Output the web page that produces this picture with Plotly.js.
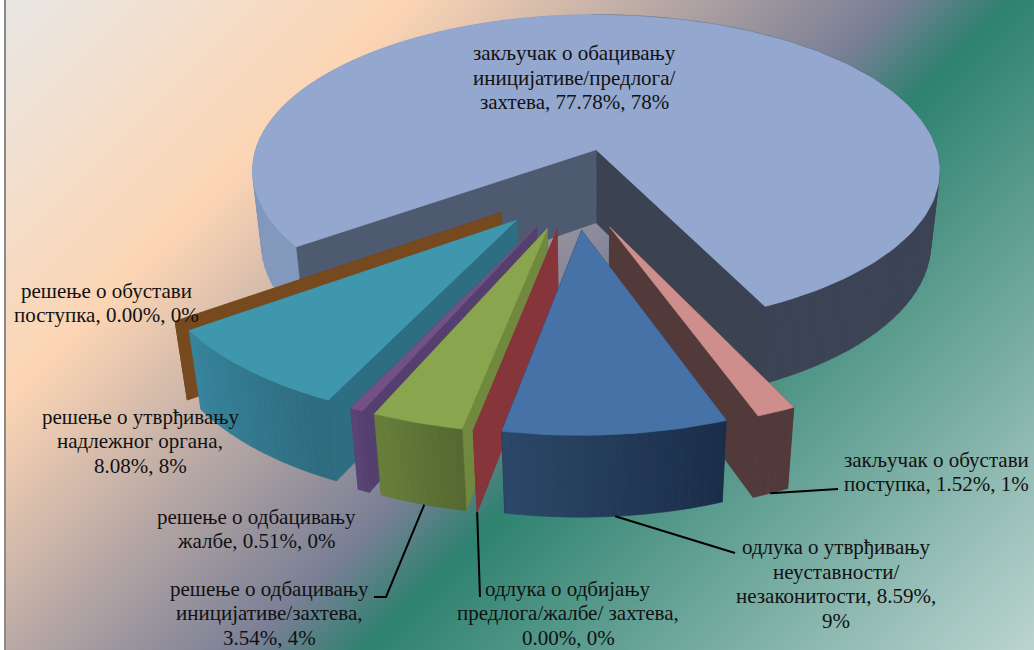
<!DOCTYPE html>
<html><head><meta charset="utf-8">
<script src="https://cdn.plot.ly/plotly-3.0.1.min.js"></script>
<style>
html,body{margin:0;padding:0;background:#fff;width:1034px;height:650px;overflow:hidden}
#bg{position:absolute;left:4px;top:0;width:1028px;height:650px;border-left:2px solid #8a8a8a;
background:linear-gradient(135deg,#e9e7e4 0%,#fcd5b4 24%,#7a7f96 53%,#2e8270 60%,#bcd4d0 100%)}
#chart{position:absolute;left:0;top:0;width:1034px;height:650px}
</style></head><body><div id="bg"></div><div id="chart"></div>
<script>
// Data, clockwise from the start angle
const sliceNames=["main","pink","blue","red","green","purple","teal","brown"];
const values=[77.78,1.52,8.59,0,3.54,0.51,8.08,0];
const labels=[
 "закључак о обацивању<br>иницијативе/предлога/<br>захтева, 77.78%, 78%",
 "закључак о обустави<br>поступка, 1.52%, 1%",
 "одлука о утврђивању<br>неуставности/<br>незаконитости, 8.59%,<br>9%",
 "одлука о одбијању<br>предлога/жалбе/ захтева,<br>0.00%, 0%",
 "решење о одбацивању<br>иницијативе/захтева,<br>3.54%, 4%",
 "решење о одбацивању<br>жалбе, 0.51%, 0%",
 "решење о утврђивању<br>надлежног органа,<br>8.08%, 8%",
 "решење о обустави<br>поступка, 0.00%, 0%"];
// Styles and layout
const topColors=["#94a7cf","#cd8e8c","#4672a8","#86363a","#89a64e","#735087","#3f97ae","#764a1e"];
const startWall=["#4d5a70","#533a3a","#2a4566","#86363a","#71893f","#553f6e","#2e6e82","#764a1e"];
const endWall=["#3b4252","#533a3a","#1b2e4a","#86363a","#566a30","#553f6e","#347f96","#764a1e"];
const rimFrom=["#3c4354","#533a3a","#1a2d49","#86363a","#546830","#553f6e","#2d6a7e","#764a1e"];
const rimTo=["#8299bd","#533a3a","#2c4869","#86363a","#687f3b","#5a4577","#37859d","#764a1e"];
const drawOrder=[0,1,7,6,5,4,3,2];
const labelX=[574,936,836,568,269,256,140,106];
const labelY=[77.5,472,584,613,613,529,441,303];
const labelSize=[21,21,21,21,21,21,21,21];
const lineHeight=24.5;
const leaders=[
 {slice:1,frac:.51,path:[[838,489]]},
 {slice:2,frac:.5,path:[[735,553]]},
 {slice:3,frac:.5,path:[[480,597]]},
 {slice:4,frac:.48,path:[[386,597],[374,597]]}];
const startAngle=234.2, explode=.25, centreU=-.058, centreV=.24;
const cx=595, cy=150, A=340.5, B=153.2, K=.1346, D=75, M=.026;

const total=values.reduce((a,b)=>a+b,0);
const rad=d=>d*Math.PI/180;
function project(u,v,z){const w=1-K*v+M*z;return [cx+A*u/w, cy+(B*v+D*z)/w];}
let acc=startAngle;
const slices=values.map(v=>{const sweep=360*v/total;const s={a0:acc,a1:acc+sweep};acc+=sweep;
  const m=rad(s.a0+sweep/2);s.ou=centreU+explode*Math.sin(m);s.ov=centreV-explode*Math.cos(m);return s;});
function edge(s,a,z){return project(s.ou+Math.sin(rad(a)),s.ov-Math.cos(rad(a)),z);}
const apex=(s,z)=>project(s.ou,s.ov,z);
function hex(c){return [1,3,5].map(i=>parseInt(c.substr(i,2),16));}
function mix(a,b,t){const x=hex(a),y=hex(b);return "rgb("+x.map((q,i)=>Math.round(q+(y[i]-q)*t)).join(",")+")";}
const traces=[];
function poly(pts,col){const p=pts.concat([pts[0]]);
  traces.push({type:"scatter",mode:"lines",x:p.map(q=>q[0]),y:p.map(q=>q[1]),fill:"toself",fillcolor:col,
    line:{color:col,width:.6},hoverinfo:"skip",showlegend:false});}
function wall(s,a,col){poly([apex(s,0),edge(s,a,0),edge(s,a,1),apex(s,1)],col);}
function rim(s,i){const n=Math.max(1,Math.ceil((s.a1-s.a0)/1.25));
  for(let j=0;j<n;j++){const a=s.a0+(s.a1-s.a0)*j/n,b=s.a0+(s.a1-s.a0)*(j+1)/n;
    poly([edge(s,a,0),edge(s,b,0),edge(s,b,1),edge(s,a,1)],mix(rimFrom[i],rimTo[i],(j+.5)/n));}}
function topFace(s,i){const n=Math.max(1,Math.ceil((s.a1-s.a0)/1.5));const pts=[apex(s,0)];
  for(let j=0;j<=n;j++)pts.push(edge(s,s.a0+(s.a1-s.a0)*j/n,0));poly(pts,topColors[i]);}
drawOrder.forEach(i=>{const s=slices[i];
  if(i===0){ // the big slice: its rim sits behind the walls of the cut
    const n=Math.ceil((s.a1-s.a0)/2.5);
    for(let j=0;j<n;j++){const a=s.a0+(s.a1-s.a0)*j/n,b=s.a0+(s.a1-s.a0)*(j+1)/n;
      const mid=((a+b)/2)%360;const col=mid>180?rimTo[0]:rimFrom[0];
      poly([edge(s,a,0),edge(s,b,0),edge(s,b,1),edge(s,a,1)],col);}
  }
  wall(s,s.a1,endWall[i]);wall(s,s.a0,startWall[i]);
  if(i!==0)rim(s,i);
  if(values[i]>0)topFace(s,i);
});
leaders.forEach(l=>{const s=slices[l.slice];const st=edge(s,s.a0+(s.a1-s.a0)*l.frac,1);
  const p=[st].concat(l.path);
  traces.push({type:"scatter",mode:"lines",x:p.map(q=>q[0]),y:p.map(q=>q[1]),line:{color:"#000",width:2},hoverinfo:"skip",showlegend:false});});
const annotations=[];
labels.forEach((t,i)=>{const rows=t.split("<br>");rows.forEach((r,k)=>annotations.push({text:r,x:labelX[i],
  y:labelY[i]+(k-(rows.length-1)/2)*lineHeight,xref:"x",yref:"y",showarrow:false,xanchor:"center",yanchor:"middle",
  font:{family:"Liberation Serif, serif",size:labelSize[i],color:"#111"}}));});
Plotly.newPlot("chart",traces,{width:1034,height:650,margin:{l:0,r:0,t:0,b:0},
  paper_bgcolor:"rgba(0,0,0,0)",plot_bgcolor:"rgba(0,0,0,0)",showlegend:false,hovermode:false,
  xaxis:{range:[0,1034],visible:false,fixedrange:true},
  yaxis:{range:[650,0],visible:false,fixedrange:true},annotations},{displayModeBar:false,staticPlot:true});
</script></body></html>
